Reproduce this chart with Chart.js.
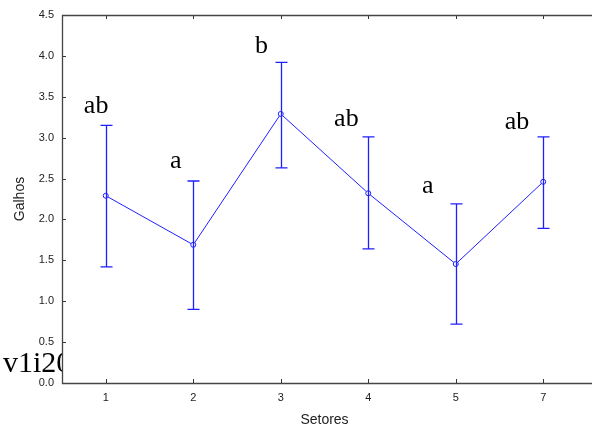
<!DOCTYPE html>
<html>
<head>
<meta charset="utf-8">
<script src="https://cdn.jsdelivr.net/npm/chart.js@4"></script>
<style>
  html, body { margin: 0; padding: 0; background: #fff; }
  #wrap { width: 592px; height: 429px; position: relative; }
</style>
</head>
<body>
<div id="wrap"><canvas id="galhosChart" width="592" height="429"></canvas></div>
<script>
// *data
const setores = ["1", "2", "3", "4", "5", "7"];
const medias = [2.29, 1.69, 3.29, 2.32, 1.455, 2.46];
const superior = [3.15, 2.47, 3.92, 3.01, 2.19, 3.01];
const inferior = [1.42, 0.9, 2.63, 1.64, 0.72, 1.89];
const letras = ["ab", "a", "b", "ab", "a", "ab"];
const letrasY = [3.3, 2.63, 4.04, 3.14, 2.32, 3.11];
const letrasDx = [-0.11, -0.2, -0.22, -0.25, -0.32, -0.3];
const yTicks = [0, 0.5, 1, 1.5, 2, 2.5, 3, 3.5, 4, 4.5];

const azul = "#1f1fff";

// error bars, letters, inner ticks, leftover text
const extras = {
  id: "extras",
  afterDatasetsDraw(chart) {
    const ctx = chart.ctx;
    const x = chart.scales.x;
    const y = chart.scales.y;
    const area = chart.chartArea;
    const step = x.getPixelForValue(1) - x.getPixelForValue(0);

    ctx.save();
    // error bars
    ctx.strokeStyle = azul;
    ctx.lineWidth = 1.3;
    setores.forEach((s, i) => {
      const px = Math.round(x.getPixelForValue(i)) + 0.5;
      const top = y.getPixelForValue(superior[i]);
      const bot = y.getPixelForValue(inferior[i]);
      ctx.beginPath();
      ctx.moveTo(px, top);
      ctx.lineTo(px, bot);
      ctx.moveTo(px - 6, top);
      ctx.lineTo(px + 6, top);
      ctx.moveTo(px - 6, bot);
      ctx.lineTo(px + 6, bot);
      ctx.stroke();
    });

    // letters
    ctx.fillStyle = "#000";
    ctx.font = "26px 'Liberation Serif', 'DejaVu Serif', serif";
    ctx.textAlign = "center";
    ctx.textBaseline = "alphabetic";
    letras.forEach((l, i) => {
      const px = x.getPixelForValue(i) + letrasDx[i] * step;
      ctx.fillText(l, px, y.getPixelForValue(letrasY[i]));
    });

    // inner ticks
    ctx.strokeStyle = "#333";
    ctx.lineWidth = 1;
    ctx.beginPath();
    yTicks.forEach((t) => {
      const py = Math.round(y.getPixelForValue(t)) + 0.5;
      ctx.moveTo(area.left, py);
      ctx.lineTo(area.left + 4, py);
    });
    setores.forEach((s, i) => {
      const px = Math.round(x.getPixelForValue(i)) + 0.5;
      ctx.moveTo(px, area.bottom);
      ctx.lineTo(px, area.bottom - 4);
      ctx.moveTo(px, area.top);
      ctx.lineTo(px, area.top + 4);
    });
    ctx.stroke();

    // frame: left, top and bottom only (runs off the right edge)
    ctx.strokeStyle = "#444";
    ctx.lineWidth = 1.3;
    ctx.beginPath();
    ctx.moveTo(chart.width, Math.round(area.top) + 0.5);
    ctx.lineTo(Math.round(area.left) + 0.5, Math.round(area.top) + 0.5);
    ctx.lineTo(Math.round(area.left) + 0.5, Math.round(area.bottom) + 0.5);
    ctx.lineTo(chart.width, Math.round(area.bottom) + 0.5);
    ctx.stroke();

    // stray text cut by the axis
    ctx.beginPath();
    ctx.rect(0, 0, area.left, chart.height);
    ctx.clip();
    ctx.fillStyle = "#000";
    ctx.textAlign = "left";
    ctx.font = "30px 'Liberation Serif', 'DejaVu Serif', serif";
    ctx.fillText("v1i20", 3, 372);
    ctx.restore();
  },
};

const ctx = document.getElementById("galhosChart");

new Chart(ctx, {
  type: "line",
  data: {
    labels: setores,
    datasets: [
      {
        data: medias,
        borderColor: azul,
        borderWidth: 1,
        backgroundColor: "#fff",
        pointBackgroundColor: "#fff",
        pointBorderColor: azul,
        pointBorderWidth: 1,
        pointRadius: 2.5,
        tension: 0,
        fill: false,
      },
    ],
  },
  options: {
    responsive: false,
    animation: false,
    layout: { padding: { top: 15, right: 2, left: 0, bottom: 0 } },
    plugins: {
      legend: { display: false },
      tooltip: { enabled: false },
    },
    scales: {
      x: {
        type: "category",
        offset: true,
        grid: { display: false, drawTicks: false },
        border: { display: false },
        ticks: {
          color: "#222",
          font: { family: "'Liberation Sans', Arial", size: 11 },
          padding: 8,
        },
        title: {
          display: true,
          text: "Setores",
          color: "#222",
          font: { family: "'Liberation Sans', Arial", size: 14 },
          padding: { top: 5, bottom: 0 },
        },
        afterFit: (s) => { s.height = 46; },
      },
      y: {
        min: 0,
        max: 4.5,
        afterBuildTicks: (s) => { s.ticks = yTicks.map((v) => ({ value: v })); },
        grid: { display: false, drawTicks: false },
        border: { display: false },
        ticks: {
          color: "#222",
          font: { family: "'Liberation Sans', Arial", size: 11 },
          padding: 8,
          callback: (v) => Number(v).toFixed(1),
        },
        title: {
          display: true,
          text: "Galhos",
          color: "#222",
          font: { family: "'Liberation Sans', Arial", size: 14 },
          padding: { top: 12, bottom: 0 },
        },
        afterFit: (s) => { s.width = 62; },
      },
    },
  },
  plugins: [extras],
});
</script>
</body>
</html>
